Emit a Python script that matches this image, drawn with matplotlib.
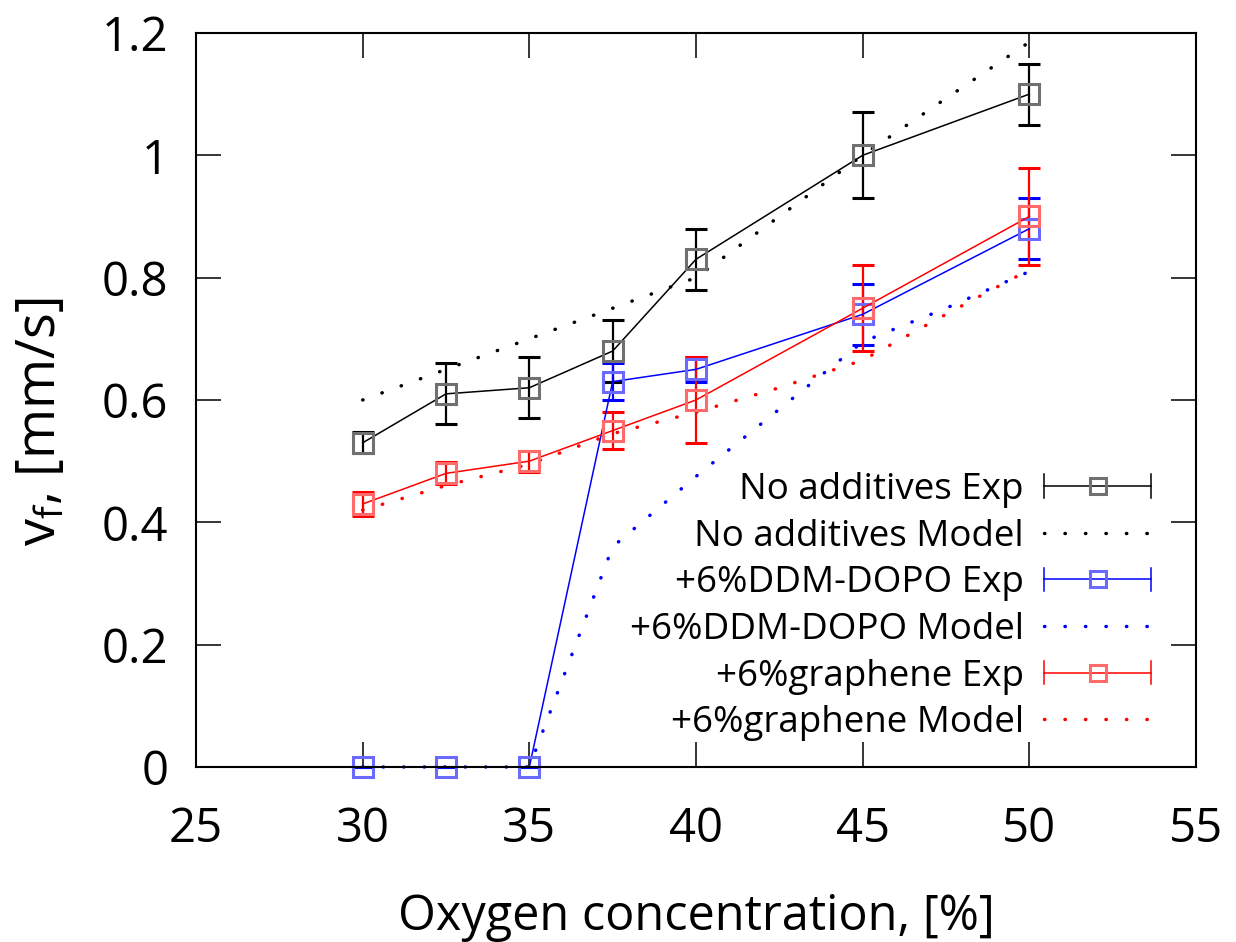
"""Flame spread rate vs oxygen concentration: experiment vs model."""
import matplotlib
matplotlib.use('Agg')
import matplotlib.pyplot as plt
from matplotlib.legend_handler import HandlerBase
from matplotlib.lines import Line2D

# ---- data ----
x_exp = [30, 32.5, 35, 37.5, 40, 45, 50]
noadd_exp = [0.53, 0.61, 0.62, 0.68, 0.83, 1.00, 1.10]
noadd_err = [0.017, 0.05, 0.05, 0.05, 0.05, 0.07, 0.05]
ddm_exp = [0.0, 0.0, 0.0, 0.63, 0.65, 0.74, 0.88]
ddm_err = [0.0, 0.0, 0.0, 0.03, 0.02, 0.05, 0.05]
gra_exp = [0.43, 0.48, 0.50, 0.55, 0.60, 0.75, 0.90]
gra_err = [0.02, 0.018, 0.017, 0.03, 0.07, 0.07, 0.08]

x_model = [30, 32.5, 35, 37.5, 40, 42.5, 45, 47.5, 50]
noadd_model = [0.60, 0.65, 0.70, 0.75, 0.80, 0.90, 1.00, 1.093, 1.185]
ddm_model = [0.0, 0.0, 0.0, 0.36, 0.475, 0.585, 0.695, 0.75, 0.81]
gra_model = [0.42, 0.46, 0.495, 0.545, 0.58, 0.62, 0.665, 0.74, 0.813]

labels = ['No additives', '+6%DDM-DOPO', '+6%graphene']
line_colors = ['black', '#0000ff', '#ff0000']
marker_colors = ['#707070', '#6a6aff', '#ff6a6a']


class HandlerExp(HandlerBase):
    """gnuplot-like key sample: horizontal bar with end caps, box in the middle."""
    def create_artists(self, legend, orig_handle, xdescent, ydescent,
                       width, height, fontsize, trans):
        y = height / 2 - ydescent
        x0, x1 = -xdescent, -xdescent + width
        c = orig_handle.get_color()
        lw = orig_handle.get_linewidth()
        cap = height * 0.45
        arts = [Line2D([x0, x1], [y, y], color=c, lw=lw),
                Line2D([x0, x0], [y - cap, y + cap], color=c, lw=lw),
                Line2D([x1, x1], [y - cap, y + cap], color=c, lw=lw),
                Line2D([(x0 + x1) / 2], [y], ls='none', marker='s',
                       ms=orig_handle.get_markersize(), mfc='none',
                       mec=orig_handle.get_markeredgecolor(),
                       mew=orig_handle.get_markeredgewidth())]
        for a in arts:
            a.set_transform(trans)
        return arts


def main():
    plt.rcParams['font.family'] = ['Open Sans', 'DejaVu Sans']
    fig = plt.figure(figsize=(12.36, 9.42), dpi=100)
    ax = fig.add_axes([0.1586, 0.1858, 0.809, 0.7792])

    exps = [noadd_exp, ddm_exp, gra_exp]
    errs = [noadd_err, ddm_err, gra_err]
    models = [noadd_model, ddm_model, gra_model]
    dots = (0, (0.1, 5.8))

    handles, names = [], []
    for lab, ye, er, ym, lc, mc in zip(labels, exps, errs, models, line_colors, marker_colors):
        ax.plot(x_model, ym, color=lc, lw=2.5, ls=dots, dash_capstyle='round',
                clip_on=False)
        ax.errorbar(x_exp, ye, yerr=er, color=lc, lw=1.1, elinewidth=1.6,
                    capsize=8, capthick=1.6, marker='s', ms=14, mfc='none',
                    mec=mc, mew=2.2, clip_on=False)
        h_exp = Line2D([], [], color=lc, lw=1.1, marker='s', ms=11, mfc='none',
                       mec=mc, mew=2.2)
        h_mod = Line2D([], [], color=lc, lw=2.5, ls=dots, dash_capstyle='round')
        handles += [h_exp, h_mod]
        names += [f'{lab} Exp', f'{lab} Model']

    hmap = {h: HandlerExp() for h in handles[::2]}
    ax.legend(handles, names, handler_map=hmap, loc='lower right',
              bbox_to_anchor=(0.955, 0.035), frameon=False, markerfirst=False,
              fontsize=26.5, handlelength=2.9, handletextpad=0.55, labelspacing=0.29,
              borderpad=0, borderaxespad=0)

    ax.set_xlim(25, 55)
    ax.set_ylim(0, 1.2)
    ax.set_xticks([25, 30, 35, 40, 45, 50, 55])
    ax.set_yticks([0, 0.2, 0.4, 0.6, 0.8, 1.0, 1.2])
    ax.set_yticklabels(['0', '0.2', '0.4', '0.6', '0.8', '1', '1.2'])
    ax.tick_params(direction='in', length=18, width=1.1, top=True, right=True,
                   labelsize=34)
    ax.tick_params(axis='x', pad=28)
    ax.tick_params(axis='y', pad=20)
    for s in ax.spines.values():
        s.set_linewidth(1.5)

    ax.set_xlabel('Oxygen concentration, [%]', fontsize=35, labelpad=28)
    ax.set_ylabel(r'v$_\mathregular{f}$, [mm/s]', fontsize=39)
    ax.yaxis.set_label_coords(-0.128, 0.47)

    fig.savefig('out.png', dpi=100)


if __name__ == '__main__':
    main()
